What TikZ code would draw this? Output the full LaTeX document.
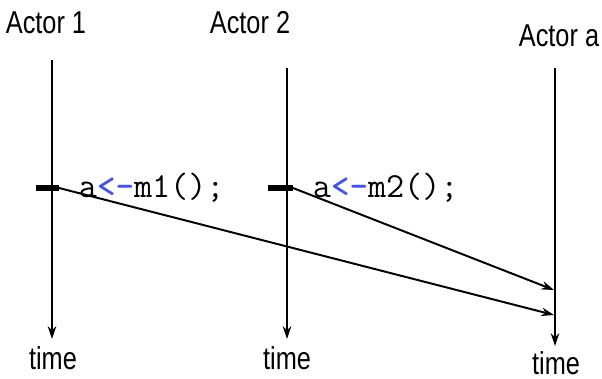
\documentclass[tikz,border=0pt]{standalone}
\usepackage{fontspec}
\usetikzlibrary{arrows.meta}
\setmainfont{Liberation Sans}[FakeStretch=0.8]
\definecolor{codeblue}{RGB}{72,84,224}
\tikzset{
  lbl/.style={inner sep=0pt, anchor=base, font=\fontsize{22.5}{26}\selectfont},
  code/.style={inner sep=0pt, anchor=base west, font=\ttfamily\fontsize{25}{29}\selectfont},
  bar/.style={line width=4.3pt}
}
\newcommand{\getarrow}{\textcolor{codeblue}{\bfseries<-}}
\begin{document}
\begin{tikzpicture}[x=0.025cm, y=-0.025cm, line join=round, >={Stealth[length=9pt,width=6pt]}, line width=1.4pt]
	\useasboundingbox (0,0) rectangle (602,379);
	% actors and time lines
	\node[lbl] (act1) at (46,34) {Actor 1};
	\node[lbl] (act2) at (250,34) {Actor 2};
	\node[lbl] (acta) at (559,47) {Actor a};
	\node[lbl] (time1) at (53,369) {time};
	\node[lbl] (time2) at (287,369) {time};
	\node[lbl] (timea) at (556,374) {time};
	\coordinate (top1) at (52,60);
	\coordinate (top2) at (287,68);
	\coordinate (topa) at (555,68);
	\coordinate (end1) at (52,339);
	\coordinate (end2) at (287,339);
	\coordinate (enda) at (555,346);
	\draw[->] (top1) -- (end1);
	\draw[->] (top2) -- (end2);
	\draw[->] (topa) -- (enda);
	% calls
	\coordinate (b1l) at (36,188);
	\coordinate (b1r) at (59,188);
	\coordinate (b2l) at (268,188);
	\coordinate (b2r) at (293,188);
	\draw[bar] (b1l) -- (b1r);
	\draw[bar] (b2l) -- (b2r);
	\node[code] (call1) at (78,198) {a\getarrow m1();};
	\node[code] (call2) at (312,198) {a\getarrow m2();};
	\coordinate (in1) at (554,315);
	\coordinate (in2) at (554,290);
	\draw[->] (b1r) -- (in1);
	\draw[->] (b2r) -- (in2);
\end{tikzpicture}
\end{document}
